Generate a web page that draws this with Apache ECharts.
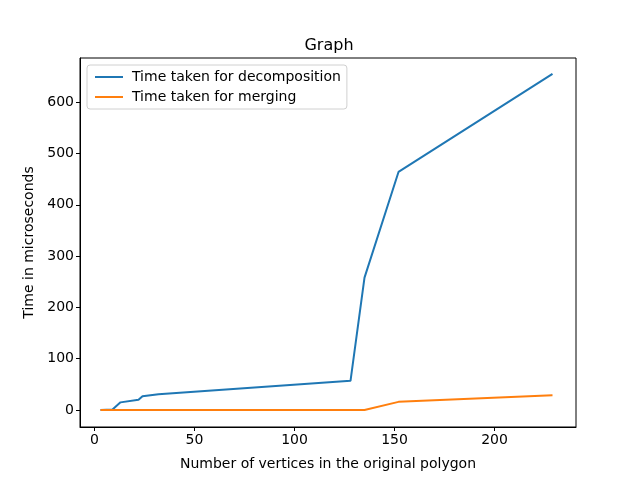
<!DOCTYPE html>
<html><head><meta charset="utf-8">
<script src="https://cdn.jsdelivr.net/npm/echarts@6/dist/echarts.min.js"></script>
<style>html,body{margin:0;padding:0;background:#fff}#c{width:640px;height:480px}</style>
</head><body><div id="c"></div>
<script>
const xVals = [3, 9, 13, 22, 24, 32, 128, 135, 152, 229];
const decomp = [0, 1, 15, 20, 27, 31, 57, 258, 464, 655];
const merge = [0, 0, 0, 0, 0, 0, 0, 0, 16, 29];
const xTicks = [0, 50, 100, 150, 200];
const yTicks = [0, 100, 200, 300, 400, 500, 600];
const seriesNames = ['Time taken for decomposition', 'Time taken for merging'];

const font = 'DejaVu Sans';
const chart = echarts.init(document.getElementById('c'), null, {renderer: 'canvas'});
const pair = (ys) => xVals.map((x, i) => [x, ys[i]]);
chart.setOption({
  animation: false,
  backgroundColor: '#fff',
  title: {text: 'Graph', left: 324, top: 33, textAlign: 'center',
    textStyle: {fontFamily: font, fontSize: 16, fontWeight: 'normal', color: '#000'}},
  grid: {left: 80, right: 64, top: 58, bottom: 53, show: true, borderColor: '#000', borderWidth: 1, backgroundColor: 'transparent'},
  legend: {
    left: 87, top: 65, orient: 'vertical', itemGap: 6, itemWidth: 28, itemHeight: 2,
    padding: [5, 6, 5, 8], backgroundColor: '#fff', borderColor: '#d0d0d0', borderWidth: 1, borderRadius: 3,
    icon: 'rect',
    textStyle: {fontFamily: font, fontSize: 14, color: '#000', padding: [0, 0, 0, 4]},
    data: seriesNames
  },
  xAxis: {
    type: 'value', min: -7.25, max: 240.75,
    name: 'Number of vertices in the original polygon', nameLocation: 'middle', nameGap: 30,
    nameTextStyle: {fontFamily: font, fontSize: 14, color: '#000'},
    axisLine: {show: true, onZero: false, lineStyle: {color: '#000'}},
    axisTick: {show: true, customValues: xTicks, length: 4, lineStyle: {color: '#000'}},
    axisLabel: {customValues: xTicks, fontFamily: font, fontSize: 14, color: '#000', margin: 6},
    splitLine: {show: false}
  },
  yAxis: {
    type: 'value', min: -33, max: 686,
    name: 'Time in microseconds', nameLocation: 'middle', nameGap: 44,
    nameTextStyle: {fontFamily: font, fontSize: 14, color: '#000'},
    axisLine: {show: true, onZero: false, lineStyle: {color: '#000'}},
    axisTick: {show: true, customValues: yTicks, length: 4, lineStyle: {color: '#000'}},
    axisLabel: {customValues: yTicks, fontFamily: font, fontSize: 14, color: '#000', margin: 6},
    splitLine: {show: false}
  },
  series: [
    {name: seriesNames[0], type: 'line', data: pair(decomp), symbol: 'none', color: '#1f77b4', lineStyle: {width: 2}},
    {name: seriesNames[1], type: 'line', data: pair(merge), symbol: 'none', color: '#ff7f0e', lineStyle: {width: 2}}
  ]
});
</script></body></html>
